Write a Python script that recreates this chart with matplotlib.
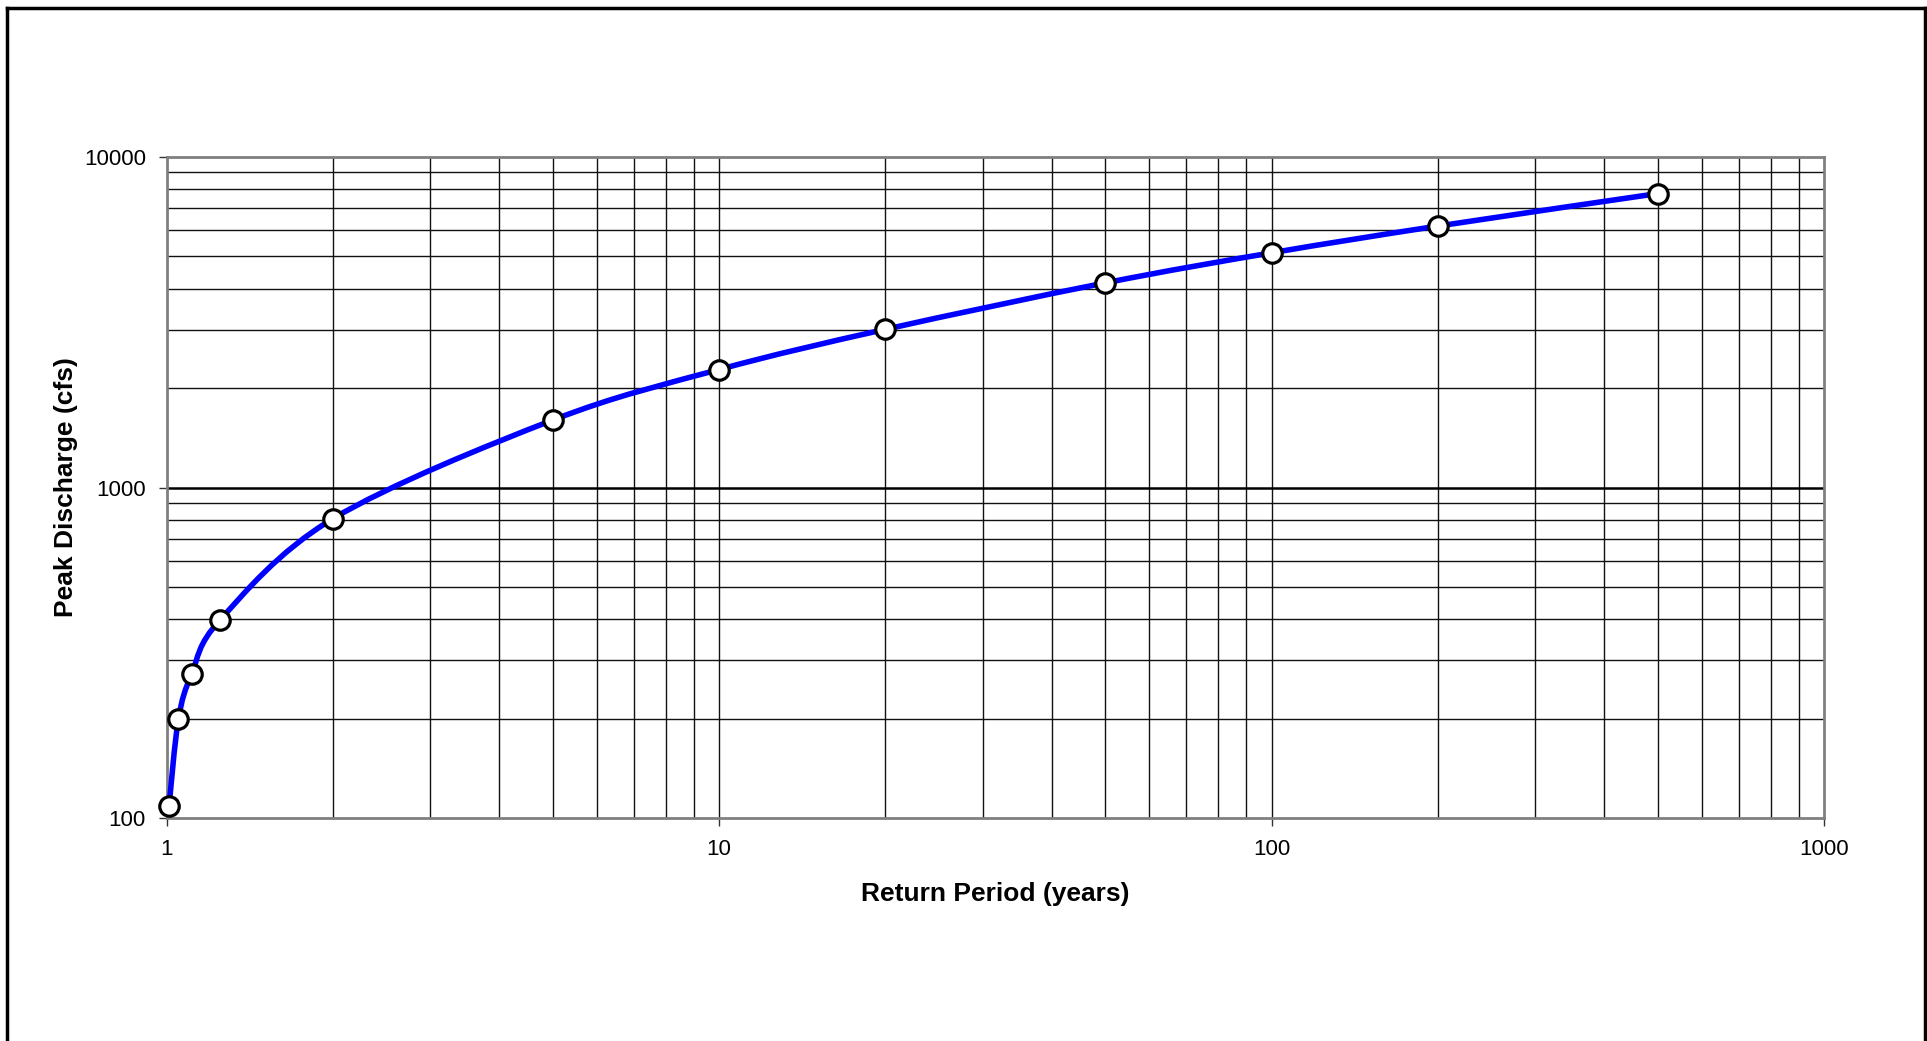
import numpy as np
import matplotlib
matplotlib.use('Agg')
from matplotlib import pyplot as plt
from matplotlib.path import Path
from matplotlib.patches import PathPatch
from matplotlib.lines import Line2D
from matplotlib.ticker import FixedLocator, NullFormatter

plt.rcParams['font.family'] = ['Liberation Sans', 'DejaVu Sans']

# return period (years) and peak discharge (cfs)
return_period = [1.01, 1.05, 1.11, 1.25, 2, 5, 10, 20, 50, 100, 200, 500]
peak_q = [109, 199, 273, 398, 805, 1600, 2275, 3010, 4160, 5130, 6180, 7750]

x_ticks = [1, 10, 100, 1000]
x_ticklabels = ['1', '10', '100', '1000']
y_ticks = [100, 1000, 10000]
y_ticklabels = ['100', '1000', '10000']

fig = plt.figure(figsize=(19.27, 10.41), dpi=100)
ax = fig.add_axes([0.0865, 0.2142, 0.8601, 0.635])

ax.set_xscale('log')
ax.set_yscale('log')
ax.set_xlim(1, 1000)
ax.set_ylim(100, 10000)

# smoothed line like the spreadsheet: bezier segments in log space
lx = np.log10(return_period)
ly = np.log10(peak_q)
pts = np.column_stack([lx, ly])
n = len(pts)
verts = [pts[0]]
codes = [Path.MOVETO]
for i in range(n - 1):
    p0 = pts[max(i - 1, 0)]
    p1 = pts[i]
    p2 = pts[i + 1]
    p3 = pts[min(i + 2, n - 1)]
    c1 = p1 + (p2 - p0) / 6.0
    c2 = p2 - (p3 - p1) / 6.0
    verts += [c1, c2, p2]
    codes += [Path.CURVE4] * 3
verts = 10 ** np.array(verts)
curve = PathPatch(Path(verts, codes), facecolor='none', edgecolor='#0000ff',
                  lw=4.0, transform=ax.transData, zorder=3)
ax.add_patch(curve)

ax.plot(return_period, peak_q, linestyle='none', marker='o', markersize=14,
        markerfacecolor='white', markeredgecolor='black', markeredgewidth=2.3,
        zorder=4, clip_on=False)

# grid
for d in [1, 10, 100]:
    for m in range(2, 10):
        ax.axvline(d * m, color='#111111', lw=1.0, zorder=1)
for d in [10, 100]:
    ax.axvline(d, color='#111111', lw=1.0, zorder=1)
for d in [100, 1000]:
    for m in range(2, 10):
        ax.axhline(d * m, color='#111111', lw=1.0, zorder=1)
ax.axhline(1000, color='black', lw=1.8, zorder=1)

for s in ax.spines.values():
    s.set_color('#808080')
    s.set_linewidth(2.0)

ax.xaxis.set_major_locator(FixedLocator(x_ticks))
ax.set_xticklabels(x_ticklabels)
ax.yaxis.set_major_locator(FixedLocator(y_ticks))
ax.set_yticklabels(y_ticklabels)
ax.xaxis.set_minor_formatter(NullFormatter())
ax.yaxis.set_minor_formatter(NullFormatter())
ax.tick_params(which='minor', length=0)
ax.tick_params(which='major', length=6, width=1.0, color='#333333',
               labelsize=16, pad=9, direction='out')

ax.set_xlabel('Return Period (years)', fontsize=19, fontweight='bold', labelpad=16)
ax.set_ylabel('Peak Discharge (cfs)', fontsize=19, fontweight='bold', labelpad=4)

# outer chart border
for xs, ys in [([0.0037, 0.0037], [0, 0.9925]), ([0.0037, 0.9990], [0.9925, 0.9925]),
               ([0.9990, 0.9990], [0, 0.9925])]:
    fig.add_artist(Line2D(xs, ys, color='black', lw=2.5, transform=fig.transFigure))

fig.savefig('out.png', dpi=100)
